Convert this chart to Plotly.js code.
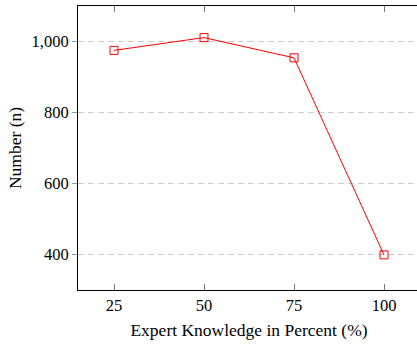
<!DOCTYPE html>
<html>
<head>
<meta charset="utf-8">
<script src="https://cdn.plot.ly/plotly-3.0.1.min.js"></script>
<style>
html,body{margin:0;padding:0;overflow:hidden;background:#fff;}
#chart{width:420px;height:347px;}
</style>
</head>
<body>
<div id="chart"></div>
<script>
const xValues = [25, 50, 75, 100];
const yValues = [975, 1011, 954, 399];
const xTicks = [25, 50, 75, 100];
const yTicks = [400, 600, 800, 1000];

const family = '"Liberation Serif", "Times New Roman", serif';
const tickFont = {family: family, size: 16.5, color: '#000'};
const titleFont = {family: family, size: 17.5, color: '#000'};

const trace = {
  x: xValues,
  y: yValues,
  type: 'scatter',
  mode: 'lines+markers',
  line: {color: '#ff0000', width: 1},
  marker: {symbol: 'square-open', size: 8, color: '#ff0000', line: {width: 1, color: '#ff0000'}},
  showlegend: false
};

const layout = {
  width: 420,
  height: 347,
  margin: {l: 78, r: 0, t: 6, b: 57, pad: 0},
  paper_bgcolor: '#fff',
  plot_bgcolor: '#fff',
  font: tickFont,
  xaxis: {
    range: [15, 110],
    tickvals: xTicks,
    ticktext: xTicks.map(String),
    ticks: 'inside',
    ticklen: 6,
    tickcolor: '#777',
    tickwidth: 1,
    showline: true,
    linecolor: '#000',
    linewidth: 1,
    mirror: 'ticks',
    showgrid: false,
    zeroline: false,
    tickfont: tickFont,
    title: {text: 'Expert Knowledge in Percent (%)', font: titleFont, standoff: 9}
  },
  yaxis: {
    range: [300, 1100],
    tickvals: yTicks,
    tickformat: ',d',
    ticks: 'outside',
    ticklen: 5,
    tickcolor: '#999',
    tickwidth: 1,
    showline: true,
    linecolor: '#000',
    linewidth: 1,
    mirror: true,
    showgrid: true,
    gridcolor: '#cccccc',
    gridwidth: 1,
    griddash: '6px,4px',
    zeroline: false,
    tickfont: tickFont,
    title: {text: 'Number (n)', font: titleFont, standoff: 5}
  }
};

Plotly.newPlot('chart', [trace], layout, {displayModeBar: false, staticPlot: true});
</script>
</body>
</html>
